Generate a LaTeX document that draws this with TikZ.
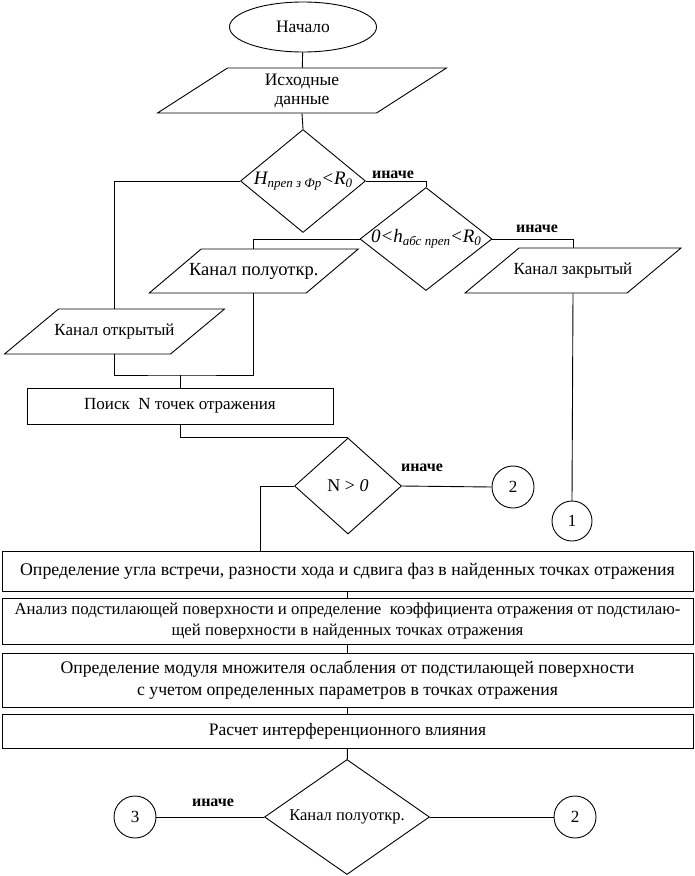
\documentclass[tikz,border=0pt]{standalone}
\usepackage{fontspec}
\setmainfont{Liberation Serif}
\usetikzlibrary{shapes.geometric,calc}
\newcommand\sbs[1]{\raisebox{-0.35ex}{\fontsize{13}{13}\selectfont #1}}
\newcommand\parabox[8]{%
  \draw (#2-#4+#6,#3-#5) -- (#2+#4+#6,#3-#5) -- (#2+#4-#6,#3+#5) -- (#2-#4-#6,#3+#5) -- cycle;
  \node[align=center, minimum height=2*#5pt, font=\fontsize{#8}{19}\selectfont] (#1) at (#2,#3) {#7};
}
\begin{document}
\begin{tikzpicture}[x=1pt,y=-1pt, line width=0.9pt,
  every node/.style={font=\fontsize{17}{20}\selectfont, inner sep=0pt},
  box/.style={draw, rectangle, align=center, minimum width=691pt},
  dia/.style={draw, diamond},
  term/.style={draw, ellipse},
  conn/.style={draw, circle},
  lbl/.style={font=\fontsize{16}{19}\selectfont\bfseries}]
\useasboundingbox (0,0) rectangle (695,876);

\node[term, minimum width=147pt, minimum height=50pt, font=\fontsize{17.5}{20}\selectfont] (start) at (303,27) {Начало};
\parabox{isx}{302}{90.5}{109.5}{22.5}{35}{Исходные\\данные}{17.5}
\node[dia, minimum width=125pt, minimum height=103pt,
  label={[font=\fontsize{19}{20}\selectfont]center:\textit{H\sbs{преп з Фр}<R\sbs{0}}}] (d1) at (303,181) {};
\node[dia, minimum width=132pt, minimum height=103pt,
  label={[font=\fontsize{19}{20}\selectfont]center:\textit{0<h\sbs{абс преп}<R\sbs{0}}}] (d2) at (426,239) {};
\parabox{semi}{253.75}{271}{78.5}{22}{26}{Канал полуоткр.}{18.5}
\parabox{closed}{573}{270.5}{81}{22.5}{27}{Канал закрытый}{17}
\parabox{open}{114.5}{331.5}{83}{22.5}{27}{Канал открытый}{17}
\node[draw, minimum width=306pt, minimum height=36pt] (search) at (180,406) {Поиск\ \ N точек отражения};
\node[dia, minimum width=107pt, minimum height=96pt,
  label={[font=\fontsize{18}{20}\selectfont]center:N > \textit{0}}] (d3) at (348,486) {};
\node[conn, minimum size=42pt] (c2a) at (513,487) {2};
\node[conn, minimum size=40pt] (c1) at (572,521) {1};
\node[box, minimum height=40pt, font=\fontsize{17.8}{20}\selectfont] (b1) at (347.5,571) {Определение угла встречи, разности хода и сдвига фаз в найденных точках отражения};
\node[box, minimum height=46pt, font=\fontsize{16.8}{21}\selectfont] (b2) at (347.5,621) {Анализ подстилающей поверхности и определение\ \ коэффициента отражения от подстилаю-\\щей поверхности в найденных точках отражения};
\node[box, minimum height=54pt, font=\fontsize{17.7}{22}\selectfont] (b3) at (347.5,680) {Определение модуля множителя ослабления от подстилающей поверхности\\с учетом определенных параметров в точках отражения};
\node[box, minimum height=34pt, font=\fontsize{17.5}{20}\selectfont] (b4) at (347.5,731) {Расчет интерференционного влияния};
\node[dia, minimum width=165pt, minimum height=115pt,
  label={[font=\fontsize{16.5}{20}\selectfont]center:Канал полуоткр.}] (d4) at (347,817) {};
\node[conn, minimum size=42pt] (c3) at (135,817) {3};
\node[conn, minimum size=42pt] (c2b) at (575,817) {2};

\node[lbl] (l1) at (393,175) {иначе};
\node[lbl] (l2) at (537,229) {иначе};
\node[lbl] (l3) at (422,468) {иначе};
\node[lbl] (l4) at (213,803) {иначе};

\coordinate (j1) at (180,375);
\coordinate (j3) at (260,551);

\draw (start) -- (isx);
\draw (isx.south) -- (d1.north);
\draw (d1.west) -| (open.north);
\draw (d1.east) -| (d2.north);
\draw (d2.west) -| (semi.north);
\draw (d2.east) -| (closed.north);
\draw (closed.south) -- (c1.north);
\draw (open.south) |- (j1) -| (semi.south);
\draw (j1) -- (search.north);
\draw (search.south) |- (d3.north);
\draw (d3.west) -| (j3);
\draw (d3.east) -- (c2a.west);
\draw (b1) -- (b2);
\draw (b2) -- (b3);
\draw (b3) -- (b4);
\draw (b4) -- (d4);
\draw (d4.west) -- (c3.east);
\draw (d4.east) -- (c2b.west);
\end{tikzpicture}
\end{document}
